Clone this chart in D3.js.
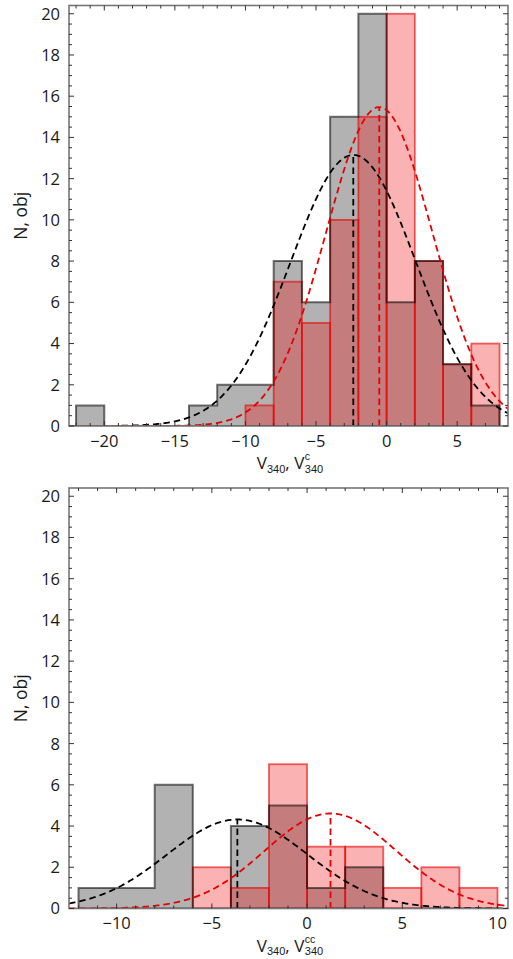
<!DOCTYPE html>
<html><head><meta charset="utf-8">
<script src="https://cdn.jsdelivr.net/npm/d3@7"></script>
<style>
html,body{margin:0;padding:0;background:#fff;}
svg{display:block;}
text{font-family:"Open Sans",sans-serif;fill:#1a1a1a;}
tspan.small{font-family:"Liberation Sans",Arial,sans-serif;}
</style></head>
<body>
<svg id="chart" width="513" height="959"></svg>
<script>
// ---------- DATA ----------
const binWidth = 2;
// Top panel: bins start at -22, width 2
const topBinStart = -22;
const topGray = [1,0,0,0,1,2,2,8,6,15,20,6,8,3,1];
const topRed  = [0,0,0,0,0,0,1,7,5,10,15,20,8,3,4];
// Gaussian fits (gray, red): mean, sigma, peak height
const topFitMean  = [-2.36, -0.52];
const topFitSigma = [4.43, 3.77];
const topFitPeak  = [13.15, 15.47];
const topXTicks = [-20,-15,-10,-5,0,5];

// Bottom panel: bins start at -12, width 2
const botBinStart = -12;
const botGray = [1,1,6,0,4,5,1,2,0,0,0];
const botRed  = [0,0,0,2,1,7,3,3,1,2,1];
const botFitMean  = [-3.66, 1.23];
const botFitSigma = [3.69, 3.46];
const botFitPeak  = [4.32, 4.61];
const botXTicks = [-10,-5,0,5,10];

const yTicks = [0,2,4,6,8,10,12,14,16,18,20];
const yLabel = "N, obj";

// ---------- DRAW ----------
const svg = d3.select("#chart");

function panel(cfg){
  const g = svg.append("g");
  const x = d3.scaleLinear().domain(cfg.xDomain).range([69, 508]);
  const y = d3.scaleLinear().domain([0, 20.4]).range([cfg.y0, cfg.y0 - 420.5]);
  const clipId = "clip" + cfg.id;
  svg.append("clipPath").attr("id", clipId).append("rect")
    .attr("x", 69).attr("y", y(20.4)).attr("width", 439).attr("height", y(0) - y(20.4));
  const pg = g.append("g").attr("clip-path", `url(#${clipId})`);

  const edges = cfg.gray.map((d,i)=>cfg.binStart + i*binWidth);
  // gray step outline path
  let p = d3.path();
  p.moveTo(x(edges[0]), y(0));
  cfg.gray.forEach((h,i)=>{
    p.lineTo(x(edges[i]), y(h));
    p.lineTo(x(edges[i] + binWidth), y(h));
  });
  p.lineTo(x(edges[edges.length-1] + binWidth), y(0));
  p.closePath();
  const stepD = p.toString();

  pg.append("path").attr("d", stepD).attr("fill", "rgba(0,0,0,0.3)").attr("stroke", "none");

  const redBins = cfg.red.map((h,i)=>({x0: cfg.binStart + i*binWidth, h})).filter(d=>d.h>0);
  pg.selectAll("rect.redf").data(redBins).join("rect").attr("class","redf")
    .attr("x", d=>x(d.x0)).attr("width", d=>x(d.x0+binWidth)-x(d.x0))
    .attr("y", d=>y(d.h)).attr("height", d=>y(0)-y(d.h))
    .attr("fill", "rgba(238,0,0,0.3)").attr("stroke","none");
  pg.selectAll("rect.rede").data(redBins).join("rect").attr("class","rede")
    .attr("x", d=>x(d.x0)).attr("width", d=>x(d.x0+binWidth)-x(d.x0))
    .attr("y", d=>y(d.h)).attr("height", d=>y(0)-y(d.h))
    .attr("fill", "none").attr("stroke", "rgba(228,0,0,0.6)").attr("stroke-width", 1.8);

  pg.append("path").attr("d", stepD).attr("fill", "none")
    .attr("stroke", "rgba(0,0,0,0.55)").attr("stroke-width", 2).attr("stroke-linejoin","miter");

  // gaussian fit curves
  const colors = ["#000", "#e60000"];
  const xs = d3.range(cfg.xDomain[0], cfg.xDomain[1] + 0.05, 0.05);
  [0,1].forEach(k=>{
    const m = cfg.fitMean[k], s = cfg.fitSigma[k], a = cfg.fitPeak[k];
    const line = d3.line().x(v=>x(v)).y(v=>y(a*Math.exp(-(v-m)*(v-m)/(2*s*s))));
    pg.append("path").attr("d", line(xs)).attr("fill","none")
      .attr("stroke", colors[k]).attr("stroke-width", 1.8).attr("stroke-dasharray","6.5,4");
    pg.append("line").attr("x1", x(m)).attr("x2", x(m)).attr("y1", y(0)).attr("y2", y(a))
      .attr("stroke", colors[k]).attr("stroke-width", 1.8).attr("stroke-dasharray","6.5,4");
  });

  // frame
  g.append("rect").attr("x", 69).attr("y", y(20.4)).attr("width", 439).attr("height", y(0)-y(20.4))
    .attr("fill","none").attr("stroke","#777").attr("stroke-width",1.6);

  // ticks
  const tk = g.append("g").attr("stroke","#333").attr("stroke-width",1);
  const xMinor = d3.range(Math.ceil(cfg.xDomain[0]), Math.floor(cfg.xDomain[1])+1, 1);
  xMinor.forEach(v=>{
    const major = v % 5 === 0;
    const L = major ? 5 : 3;
    tk.append("line").attr("x1",x(v)).attr("x2",x(v)).attr("y1",y(0)).attr("y2",y(0)-L);
    tk.append("line").attr("x1",x(v)).attr("x2",x(v)).attr("y1",y(20.4)).attr("y2",y(20.4)+L);
  });
  d3.range(0, 20.41, 0.5).forEach(v=>{
    const major = Math.abs(v % 2) < 1e-9;
    const L = major ? 5 : 3;
    tk.append("line").attr("y1",y(v)).attr("y2",y(v)).attr("x1",69).attr("x2",69+L);
    tk.append("line").attr("y1",y(v)).attr("y2",y(v)).attr("x1",508).attr("x2",508-L);
  });

  // tick labels
  g.selectAll("text.xt").data(cfg.xTicks).join("text").attr("class","xt")
    .attr("x", d=>x(d)).attr("y", y(0)+20.5).attr("text-anchor","middle")
    .attr("font-size", 16.5).text(d=> d<0 ? "\u2212"+Math.abs(d) : d);
  g.selectAll("text.yt").data(yTicks).join("text").attr("class","yt")
    .attr("x", 60).attr("y", d=>y(d)).attr("dy","0.36em").attr("text-anchor","end")
    .attr("font-size", 16.5).text(d=>d);

  // y label
  g.append("text").attr("transform", `translate(27,${y(10.2)}) rotate(-90)`)
    .attr("text-anchor","middle").attr("font-size",17.5).text(yLabel);

  // x label (single text element with sub/superscripts)
  const lg = g.append("g");
  const t = lg.append("text").attr("x",0).attr("y",0).attr("font-size",17);
  t.append("tspan").text("V");
  t.append("tspan").attr("class","small").attr("font-size",11).attr("dy",3.5).text("340");
  t.append("tspan").attr("dy",-3.5).text(", V");
  t.append("tspan").attr("class","small").attr("font-size",10.5).attr("dy",-8.6).attr("dx",0.5).text(cfg.sup);
  const off = t.node().getSubStringLength(0, 7);
  const sub2 = t.append("tspan").attr("class","small").attr("font-size",11).attr("x", off + 0.5).attr("dy",12.1).text("340");
  const subW = sub2.node().getComputedTextLength();
  const total = off + 0.5 + subW;
  lg.attr("transform", `translate(${290 - total/2},${y(0)+43})`);
}

panel({id:"t", xDomain:[-22.5, 8.6], y0:426, binStart: topBinStart, gray: topGray, red: topRed,
  fitMean: topFitMean, fitSigma: topFitSigma, fitPeak: topFitPeak, xTicks: topXTicks, sup:"c"});
panel({id:"b", xDomain:[-12.5, 10.55], y0:908.5, binStart: botBinStart, gray: botGray, red: botRed,
  fitMean: botFitMean, fitSigma: botFitSigma, fitPeak: botFitPeak, xTicks: botXTicks, sup:"cc"});
</script>
</body></html>
